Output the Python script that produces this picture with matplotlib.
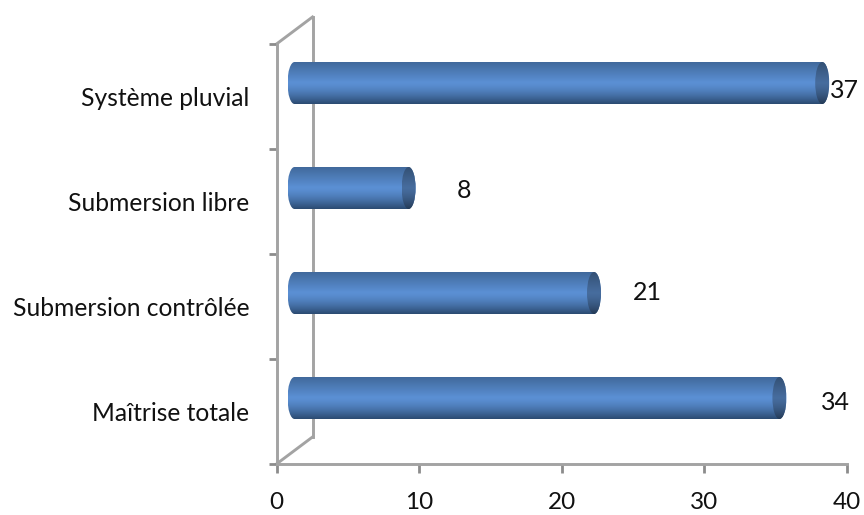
import matplotlib
matplotlib.use("Agg")
import matplotlib.pyplot as plt
import numpy as np
from matplotlib.patches import Ellipse
from matplotlib.path import Path
from matplotlib.transforms import Affine2D

categories = ["Maîtrise totale", "Submersion contrôlée", "Submersion libre", "Système pluvial"]
values = [34, 21, 8, 37]
xticks = [0, 10, 20, 30, 40]
# decalage des etiquettes de valeur, en pixels
label_dx = [74, 71, 73, 40]
label_dy = [5, -1, 2, 8]

W, H = 864, 515
GRIS = "#a3a3a3"
plt.rcParams["font.family"] = ["Lato", "DejaVu Sans"]

fig = plt.figure(figsize=(W / 100, H / 100), dpi=100)
ax = fig.add_axes([276.5 / W, 1 - 464 / H, 570.5 / W, 420 / H])
ax.set_xlim(0, 40)
ax.set_ylim(0, 4)
for s in ["top", "right"]:
    ax.spines[s].set_visible(False)
for s in ["left", "bottom"]:
    ax.spines[s].set_color(GRIS)
    ax.spines[s].set_linewidth(2.1)

ax.set_xticks(xticks)
ax.set_yticks(range(5))
ax.set_yticklabels([])
ax.set_yticks(np.arange(len(categories)) + 0.5, labels=categories, minor=True)
ax.tick_params(axis="x", length=6.5, width=2, color="#8c8c8c", labelsize=17.5, pad=14, labelcolor="#111111")
ax.tick_params(axis="y", which="major", length=5.5, width=2, color="#8c8c8c")
ax.tick_params(axis="y", which="minor", length=0, labelsize=17.7, pad=19.5, labelcolor="#111111")

# paroi du fond et aretes de profondeur
px_x = 40 / 570.5
px_y = 4 / 420
prof_x, prof_y = 36 * px_x, 27 * px_y
ax.plot([prof_x, prof_x], [prof_y, 4 + prof_y], color=GRIS, lw=2.1, clip_on=False, zorder=1)
ax.plot([0, prof_x], [0, prof_y], color=GRIS, lw=2.1, clip_on=False, zorder=1)
ax.plot([0, prof_x], [4, 4 + prof_y], color=GRIS, lw=2.1, clip_on=False, zorder=1)

# les cylindres sont decales de la moitie de la profondeur
decal = Affine2D().translate(18, 13.5)
tr = ax.transData + decal

haut = np.array([0x41, 0x69, 0x9c]) / 255
milieu = np.array([0x5b, 0x90, 0xd4]) / 255
bas = np.array([0x2c, 0x4b, 0x72]) / 255
cols = []
for t in np.linspace(0, 1, 64):
    if t < 0.48:
        cols.append(haut + (milieu - haut) * (t / 0.48))
    else:
        cols.append(milieu + (bas - milieu) * ((t - 0.48) / 0.52) ** 1.5)
cols = np.array(cols).reshape(-1, 1, 3)
# le bout du cylindre reste plus sombre
cols_cap = cols * 0.72

h = 0.4
rx = 7 * px_x
bars = ax.barh(np.arange(4) + 0.5, values, height=h, color="#4a7ab8", transform=tr, zorder=2)
k = 0.5523
for i, (rect, v) in enumerate(zip(bars, values)):
    y = i + 0.5
    y0, y1 = y - h / 2, y + h / 2
    # contour du cylindre avec ses deux bouts arrondis
    verts = [(0, y0),
             (-k * rx, y0), (-rx, y - k * h / 2), (-rx, y),
             (-rx, y + k * h / 2), (-k * rx, y1), (0, y1),
             (v, y1),
             (v + k * rx, y1), (v + rx, y + k * h / 2), (v + rx, y),
             (v + rx, y - k * h / 2), (v + k * rx, y0), (v, y0),
             (0, y0)]
    codes = [Path.MOVETO] + [Path.CURVE4] * 6 + [Path.LINETO] + [Path.CURVE4] * 6 + [Path.LINETO]
    contour = Path(verts, codes)
    im = ax.imshow(cols, extent=[-rx, v + rx, y0, y1], aspect="auto", origin="upper",
                   transform=tr, zorder=3, interpolation="bilinear")
    im.set_clip_path(contour, tr)
    cap = Ellipse((v, y), 2 * rx, h, facecolor="none", edgecolor="none", transform=tr)
    ax.add_patch(cap)
    im_cap = ax.imshow(cols_cap + 0.02, extent=[v - rx, v + rx, y0, y1], aspect="auto", origin="upper",
                       transform=tr, zorder=4, interpolation="bilinear")
    im_cap.set_clip_path(cap)
    ax.annotate(str(v), (v, y), xytext=(label_dx[i] * 0.72, (13.5 - label_dy[i]) * 0.72),
                textcoords="offset points", ha="center", va="center",
                fontsize=18, color="#111111", annotation_clip=False, zorder=5)

ax.set_xlim(0, 40)
ax.set_ylim(0, 4)
ax.set_aspect("auto")

fig.savefig("out.png", dpi=100)
